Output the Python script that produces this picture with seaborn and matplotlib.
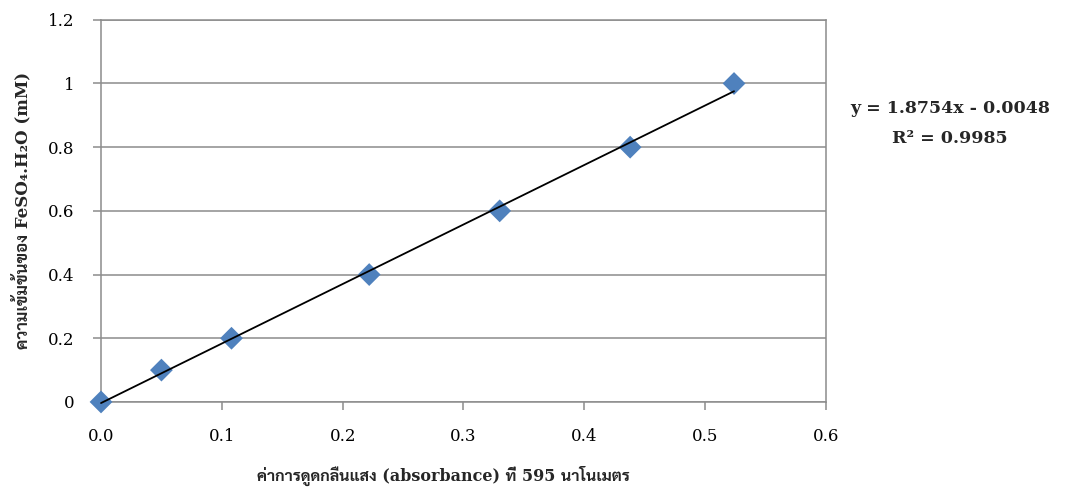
import pandas as pd
import matplotlib
matplotlib.use("Agg")
import matplotlib.pyplot as plt
import seaborn as sns

# --------------------------------------------------
# data
# --------------------------------------------------
absorbance = [0.0, 0.050, 0.108, 0.222, 0.330, 0.438, 0.524]
conc_mM = [0.0, 0.1, 0.2, 0.4, 0.6, 0.8, 1.0]
x_ticks = [0.0, 0.1, 0.2, 0.3, 0.4, 0.5, 0.6]
y_ticks = [0, 0.2, 0.4, 0.6, 0.8, 1.0, 1.2]
y_tick_labels = ["0", "0.2", "0.4", "0.6", "0.8", "1", "1.2"]
equation = "y = 1.8754x - 0.0048"
r_squared = "R² = 0.9985"

df = pd.DataFrame({"absorbance": absorbance, "conc": conc_mM})

# --------------------------------------------------
# style
# --------------------------------------------------
sns.set_style("white")
plt.rcParams["font.family"] = ["DejaVu Serif", "Sarabun", "Trirong", "DejaVu Sans"]

grey = "#8c8c8c"
blue = "#4f81bd"

fig = plt.figure(figsize=(10.77, 4.95), dpi=100)
ax = fig.add_axes([0.0938, 0.188, 0.673, 0.772])

sns.regplot(
    data=df,
    x="absorbance",
    y="conc",
    ci=None,
    marker="D",
    scatter_kws={"s": 135, "color": blue, "alpha": 1, "edgecolors": "none",
                 "zorder": 3, "clip_on": False},
    line_kws={"color": "black", "linewidth": 1.3, "zorder": 4, "clip_on": False},
    ax=ax,
)

ax.set_xlim(0, 0.6)
ax.set_ylim(0, 1.2)
ax.set_xticks(x_ticks)
ax.set_xticklabels([f"{t:.1f}" for t in x_ticks])
ax.set_yticks(y_ticks)
ax.set_yticklabels(y_tick_labels)

ax.yaxis.grid(True, color=grey, linewidth=1.1)
ax.set_axisbelow(True)
for side in ["left", "right", "top", "bottom"]:
    ax.spines[side].set_visible(True)
    ax.spines[side].set_color(grey)
    ax.spines[side].set_linewidth(1.1)

ax.tick_params(axis="both", direction="out", length=6, width=1.1, color=grey,
               labelsize=12, labelcolor="black", pad=13)
ax.tick_params(axis="x", bottom=True)
ax.tick_params(axis="y", left=True)

ax.set_xlabel("ค่าการดูดกลืนแสง (absorbance) ที่ 595 นาโนเมตร",
              fontsize=11.5, fontweight="bold")
ax.xaxis.set_label_coords(0.472, -0.168)
ax.set_ylabel("ความเข้มข้นของ FeSO₄.H₂O (mM)",
              fontsize=12, fontweight="bold", labelpad=12)

fig.text(0.882, 0.780, equation, ha="center", va="center",
         fontsize=12.5, fontweight="bold")
fig.text(0.882, 0.721, r_squared, ha="center", va="center",
         fontsize=12.5, fontweight="bold")

fig.savefig("out.png", dpi=100)
